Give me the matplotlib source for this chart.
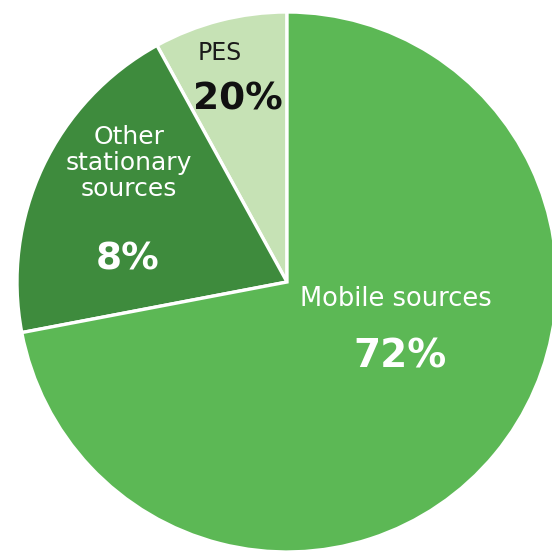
import matplotlib.pyplot as plt

# Emission shares by source (wedge sizes, counter-clockwise from 12 o'clock)
sources = ["PES", "Other\nstationary\nsources", "Mobile sources"]
shares = [8, 20, 72]
pct_text = ["20%", "8%", "72%"]  # percentages as printed on the chart
colors = ["#c6e2b5", "#3e8b3d", "#5cb855"]

plt.rcParams['font.family'] = ['DejaVu Sans']

fig = plt.figure(figsize=(5.52, 5.51), dpi=100)
ax = fig.add_axes([0, 0, 1, 1])

# pie in pixel-like coordinates (y measured upward)
cx, cy, r = 287, 551 - 282, 270
ax.pie(shares, colors=colors, startangle=90, counterclock=True,
       center=(cx, cy), radius=r,
       wedgeprops=dict(edgecolor='white', linewidth=2.4))
ax.set_xlim(0, 552)
ax.set_ylim(0, 551)
ax.set_aspect('equal')
ax.axis('off')

# category names
ax.text(220, 551 - 53, sources[0], ha='center', va='center', fontsize=17, color='#1a1a1a')
ax.text(129, 551 - 163, sources[1], ha='center', va='center', fontsize=18,
        color='white', linespacing=1.12)
ax.text(396, 551 - 299, sources[2], ha='center', va='center', fontsize=18.5,
        color='white')

# percentage labels
ax.text(238, 551 - 99, pct_text[0], ha='center', va='center', fontsize=27,
        fontweight='bold', color='#111111')
ax.text(128, 551 - 259, pct_text[1], ha='center', va='center', fontsize=27,
        fontweight='bold', color='white')
ax.text(400, 551 - 356, pct_text[2], ha='center', va='center', fontsize=28,
        fontweight='bold', color='white')

fig.savefig('out.png', dpi=100)
